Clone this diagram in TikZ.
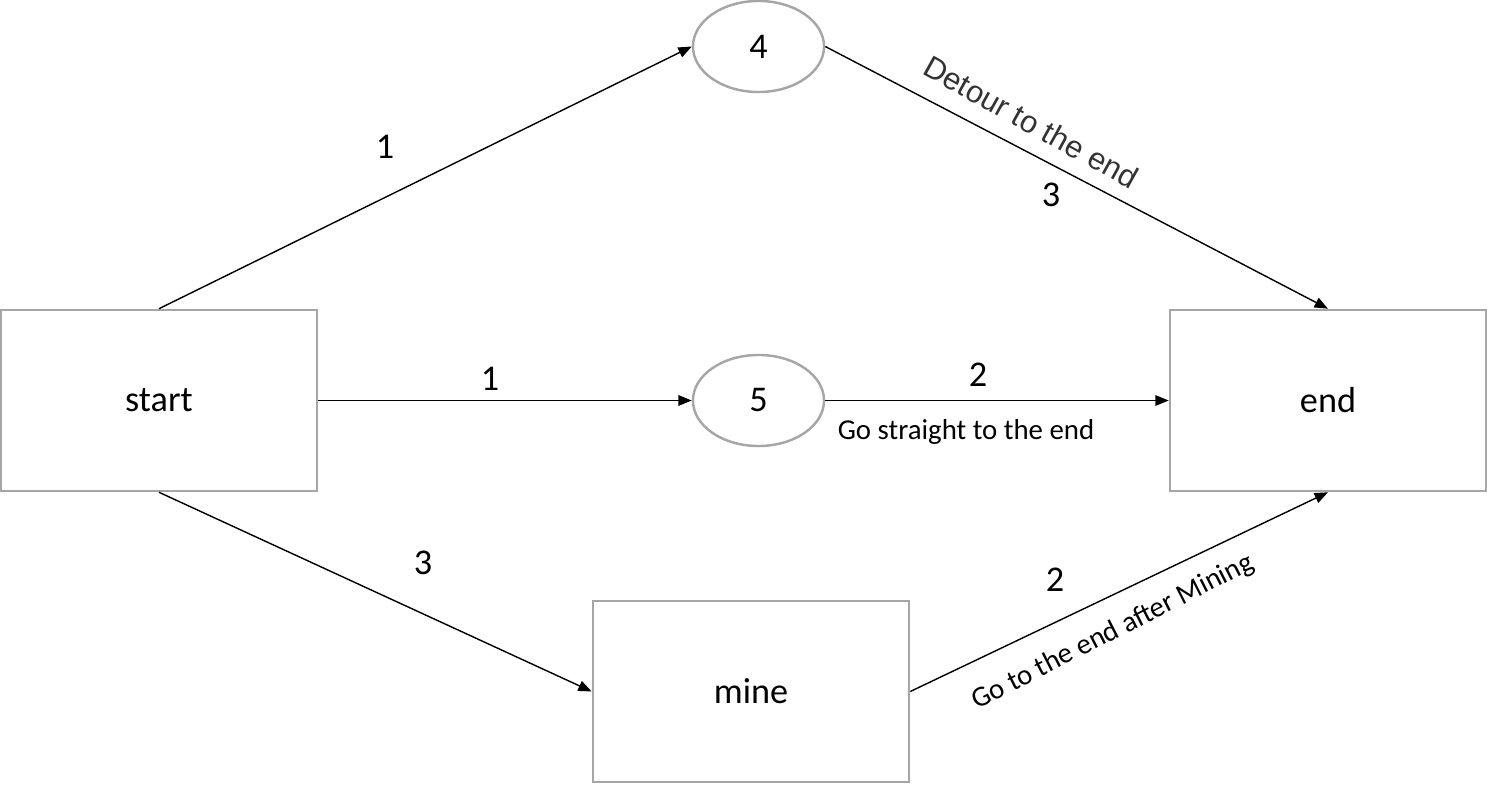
\documentclass[tikz,border=0pt]{standalone}
\usepackage{fontspec}
\setmainfont{Carlito}
\newfontfamily\arialfont{Liberation Sans}
\usetikzlibrary{shapes.geometric, arrows.meta}

\begin{document}
\begin{tikzpicture}[x=0.01cm, y=-0.01cm,
  box/.style={draw=black!35, line width=0.7pt, minimum width=3.16cm, minimum height=1.81cm, inner sep=0pt, font=\fontsize{10.3}{12}\selectfont},
  oval/.style={ellipse, draw=black!35, line width=0.7pt, minimum width=1.31cm, minimum height=0.91cm, inner sep=0pt, font=\fontsize{10.3}{12}\selectfont},
  link/.style={-{Triangle[length=3.8pt, width=3pt]}, line width=0.4pt},
  num/.style={font=\fontsize{10.3}{12}\selectfont},
  note/.style={font=\fontsize{8.2}{10}\selectfont}]
\useasboundingbox (0,0) rectangle (1487,785);
\node[box] (start) at (159,400.5) {start};
\node[box] (end) at (1328,400.5) {end};
\node[box] (mine) at (751,691.5) {mine};
\node[oval] (four) at (758.5,46.5) {4};
\node[oval] (five) at (758.5,400.5) {5};
\draw[link] (start.north) -- (four.west);
\draw[link] (four.east) -- (end.north);
\draw[link] (start.east) -- (five.west);
\draw[link] (five.east) -- (end.west);
\draw[link] (start.south) -- (mine.west);
\draw[link] (mine.east) -- (end.south);
% weights and notes
\node[num] (w1) at (385,147) {1};
\node[num] (w2) at (1051,195) {3};
\node[num] (w3) at (490,379) {1};
\node[num] (w4) at (978,375) {2};
\node[num] (w5) at (423,563) {3};
\node[num] (w6) at (1055,580) {2};
\node[font=\arialfont\fontsize{8.8}{10}\selectfont, text=black!80, rotate=-29] (n1) at (1031,122) {Detour to the end};
\node[note] (n2) at (966,432) {Go straight to the end};
\node[note, rotate=27] (n3) at (1113,632) {Go to the end after Mining};
\end{tikzpicture}
\end{document}
